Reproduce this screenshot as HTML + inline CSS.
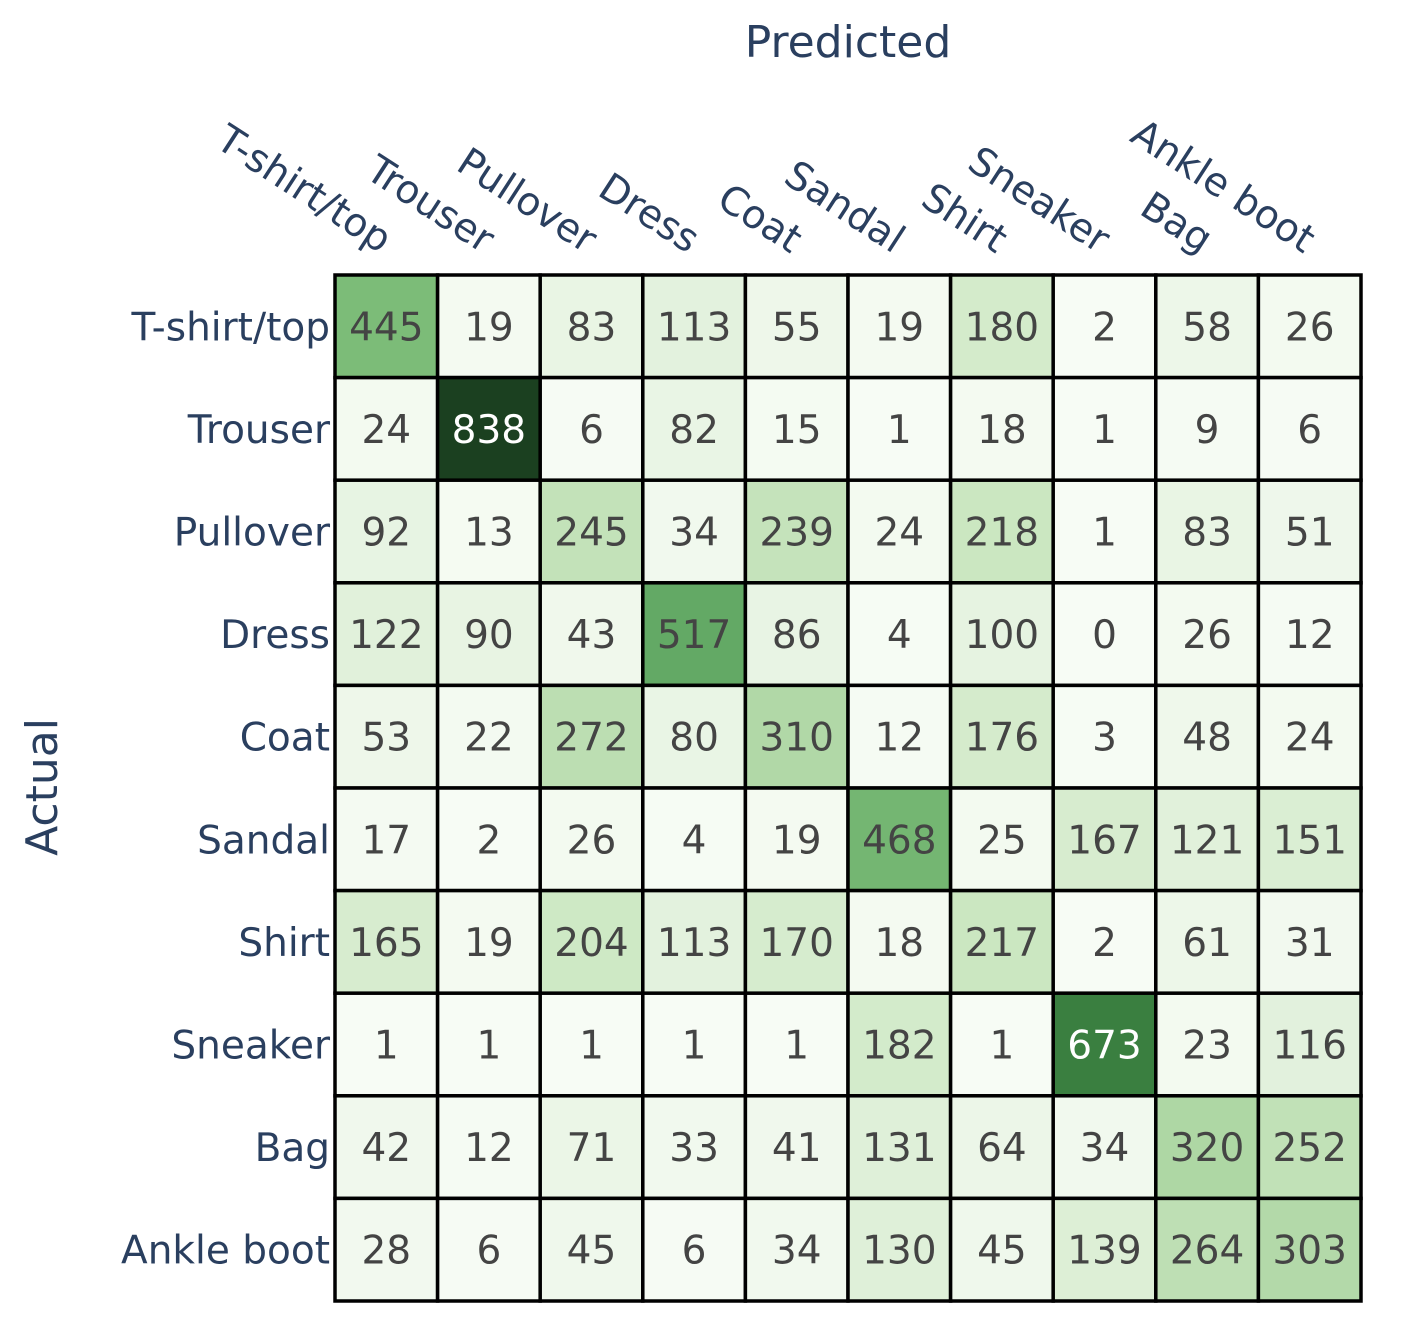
<!DOCTYPE html>
<html><head><meta charset="utf-8"><style>
body{margin:0;background:#fff;}
svg{display:block;font-family:"DejaVu Sans","Liberation Sans",sans-serif;}
</style></head><body>
<svg id="chart" width="1412" height="1326" xmlns="http://www.w3.org/2000/svg">
<text x="848" y="57" font-size="44" fill="#2a3f5f" text-anchor="middle">Predicted</text>
<text transform="translate(57,787) rotate(-90)" font-size="44" fill="#2a3f5f" text-anchor="middle">Actual</text>
<g id="cells"></g>
<g id="labels"></g>
</svg>
<script>
const categories = ["T-shirt/top","Trouser","Pullover","Dress","Coat","Sandal","Shirt","Sneaker","Bag","Ankle boot"];
const row0 = [445,19,83,113,55,19,180,2,58,26];
const row1 = [24,838,6,82,15,1,18,1,9,6];
const row2 = [92,13,245,34,239,24,218,1,83,51];
const row3 = [122,90,43,517,86,4,100,0,26,12];
const row4 = [53,22,272,80,310,12,176,3,48,24];
const row5 = [17,2,26,4,19,468,25,167,121,151];
const row6 = [165,19,204,113,170,18,217,2,61,31];
const row7 = [1,1,1,1,1,182,1,673,23,116];
const row8 = [42,12,71,33,41,131,64,34,320,252];
const row9 = [28,6,45,6,34,130,45,139,264,303];
const matrix = [row0,row1,row2,row3,row4,row5,row6,row7,row8,row9];

const NS="http://www.w3.org/2000/svg";
const x0=335,y0=275,size=1026,n=categories.length,cw=size/n;
const xPos=i=>x0+i*cw, yPos=j=>y0+j*cw;
let vmax=0,vmin=Infinity;matrix.forEach(r=>r.forEach(v=>{vmax=Math.max(vmax,v);vmin=Math.min(vmin,v);}));
const stops=[[0,[247,252,245]],[0.12,[230,243,225]],[0.25,[205,232,195]],[0.38,[175,215,165]],[0.53,[124,188,120]],[0.62,[98,168,100]],[0.8,[58,128,65]],[1,[27,64,32]]];
function color(v){const t=(v-vmin)/(vmax-vmin);let i=0;while(i<stops.length-2&&t>stops[i+1][0])i++;
 const a=stops[i],b=stops[i+1],f=(t-a[0])/(b[0]-a[0]);
 const c=a[1].map((x,k)=>Math.round(x+(b[1][k]-x)*f));
 return `rgb(${c[0]},${c[1]},${c[2]})`;}
const cells=document.getElementById('cells'),labels=document.getElementById('labels');
matrix.forEach((r,j)=>r.forEach((v,i)=>{
 const rect=document.createElementNS(NS,'rect');
 
 
 rect.setAttribute('x',xPos(i));rect.setAttribute('y',yPos(j));
 rect.setAttribute('width',cw);rect.setAttribute('height',cw);
 rect.setAttribute('fill',color(v));rect.setAttribute('stroke','#000');rect.setAttribute('stroke-width','3.5');
 cells.appendChild(rect);
 const t=document.createElementNS(NS,'text');
 
 
 t.setAttribute('x',xPos(i)+cw/2);t.setAttribute('y',yPos(j)+cw/2+14);
 t.setAttribute('text-anchor','middle');t.setAttribute('font-size','39');
 t.setAttribute('fill',(v-vmin)/(vmax-vmin)>0.7?'#fff':'#444');
 t.textContent=v;cells.appendChild(t);
}));
categories.forEach((c,j)=>{
 const t=document.createElementNS(NS,'text');
 
 
 t.setAttribute('x',330);t.setAttribute('y',yPos(j)+cw/2+14);
 t.setAttribute('text-anchor','end');t.setAttribute('font-size','39');t.setAttribute('fill','#2a3f5f');
 t.textContent=c;labels.appendChild(t);
});
categories.forEach((c,i)=>{
 const t=document.createElementNS(NS,'text');
 
 
 const x=xPos(i)+cw/2-6,y=254;
 t.setAttribute('transform',`translate(${x},${y}) rotate(33)`);
 t.setAttribute('text-anchor','end');t.setAttribute('font-size','39');t.setAttribute('fill','#2a3f5f');
 t.textContent=c;labels.appendChild(t);
});
</script>
</body></html>
